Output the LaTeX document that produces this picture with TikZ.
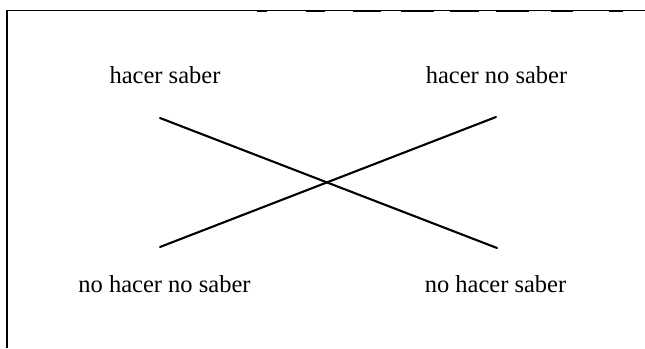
\documentclass[tikz,border=0pt]{standalone}
\usepackage{fontspec}
\setmainfont{Liberation Serif}
\begin{document}
\begin{tikzpicture}[x=1pt,y=-1pt,
  lbl/.style={inner sep=0pt,anchor=base,font=\fontsize{24.5}{28}\selectfont},
  cross/.style={line width=2.1pt,line cap=round},
  frame/.style={line width=1.3pt},
  blot/.style={line width=2.2pt}]
\useasboundingbox (0,0) rectangle (645,348);
% frame (top and left sides only)
\draw[frame] (7,348) -- (7,10.5) -- (645,10.5);
\foreach \a/\b in {257/267,306/325,353/381,401/434,450/479,496/529,551/573,609/623}
  \draw[blot] (\a,11) -- (\b,11);
% labels
\node[lbl] (hs) at (165,83) {hacer saber};
\node[lbl] (hns) at (496.5,83) {hacer no saber};
\node[lbl] (nhns) at (164.5,292) {no hacer no saber};
\node[lbl] (nhs) at (495.5,292) {no hacer saber};
% end points of the crossing lines
\coordinate (a1) at (160,118);
\coordinate (a2) at (497,248);
\coordinate (b1) at (160,247);
\coordinate (b2) at (496,117);
\draw[cross] (a1) -- (a2);
\draw[cross] (b1) -- (b2);
\end{tikzpicture}
\end{document}
